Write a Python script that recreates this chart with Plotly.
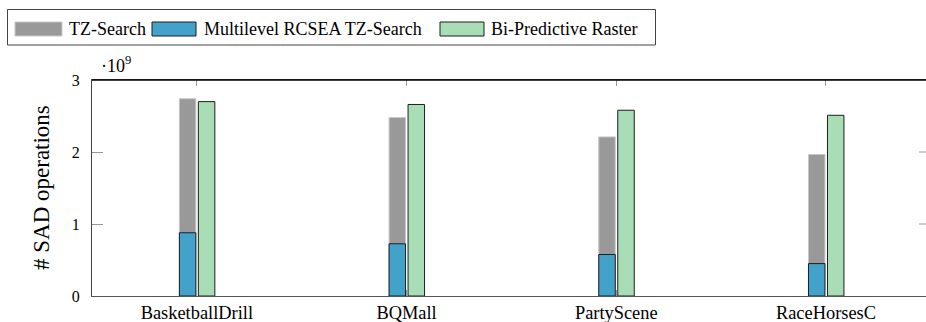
import plotly.graph_objects as go

# Sequences and SAD-operation counts per search method
categories = ["BasketballDrill", "BQMall", "PartyScene", "RaceHorsesC"]
tz_search = [2.74e9, 2.48e9, 2.21e9, 1.965e9]
rcsea_tz_search = [0.878e9, 0.725e9, 0.576e9, 0.45e9]
bi_predictive_raster = [2.70e9, 2.66e9, 2.58e9, 2.51e9]

series_names = ["TZ-Search", "Multilevel RCSEA TZ-Search", "Bi-Predictive Raster"]
y_tick_vals = [0, 1e9, 2e9, 3e9]
y_tick_text = ["0", "1", "2", "3"]

W, H = 926, 322
L, R, T, B = 92, 0, 80, 26
PW, PH = W - L - R, H - T - B


def px(x):
    return (x - L) / PW


def py(y):
    return (H - B - y) / PH


SERIF = "Liberation Serif"
GREY, BLUE, GREEN = "#999999", "#43A2CA", "#A8DDB5"
EDGE = "#1e1e1e"

bar_w = 0.0786
left_off = -0.0834
right_off = 0.00715

fig = go.Figure()
fig.add_bar(x=categories, y=tz_search, name=series_names[0], width=bar_w, offset=left_off,
            marker=dict(color=GREY, line=dict(color="#c8c8c8", width=1)))
fig.add_bar(x=categories, y=rcsea_tz_search, name=series_names[1], width=bar_w, offset=left_off,
            marker=dict(color=BLUE, line=dict(color=EDGE, width=1)))
fig.add_bar(x=categories, y=bi_predictive_raster, name=series_names[2], width=bar_w, offset=right_off,
            marker=dict(color=GREEN, line=dict(color=EDGE, width=1)))

shapes = []
annotations = []

# Right-hand y ticks (the right frame edge sits at the page border)
for v in y_tick_vals[1:-1]:
    shapes.append(dict(type="line", xref="paper", yref="y", x0=1 - 7 / PW, x1=1, y0=v, y1=v,
                       line=dict(color="#999999", width=1)))
# Top frame line
shapes.append(dict(type="line", xref="paper", yref="paper", x0=0, x1=1, y0=1, y1=1,
                   line=dict(color="#000000", width=1.3)))

# Legend box drawn with wide swatches
shapes.append(dict(type="rect", xref="paper", yref="paper", x0=px(7.5), x1=px(655.5),
                   y0=py(45), y1=py(9.5), line=dict(color="#444444", width=1), fillcolor="white"))
legend_items = [
    (15, 62, 67, GREY, "#c8c8c8"),
    (152, 196, 202, BLUE, EDGE),
    (440, 484, 489, GREEN, EDGE),
]
for (sx0, sx1, tx, col, edge), name in zip(legend_items, series_names):
    shapes.append(dict(type="rect", xref="paper", yref="paper", x0=px(sx0), x1=px(sx1),
                       y0=py(36), y1=py(22), fillcolor=col, line=dict(color=edge, width=1)))
    annotations.append(dict(text=name, xref="paper", yref="paper", x=px(tx), y=py(28.5),
                            xanchor="left", yanchor="middle", showarrow=False,
                            font=dict(family=SERIF, size=18, color="black")))

# Axis scale factor
annotations.append(dict(text="·10<sup>9</sup>", xref="paper", yref="paper", x=px(99), y=py(78),
                        xanchor="left", yanchor="bottom", showarrow=False,
                        font=dict(family=SERIF, size=18, color="black")))
# Y-axis title
annotations.append(dict(text="# SAD operations", xref="paper", yref="paper", x=px(41), y=0.5,
                        xanchor="center", yanchor="middle", textangle=-90, showarrow=False,
                        font=dict(family=SERIF, size=23, color="black")))

fig.update_layout(
    width=W, height=H,
    margin=dict(l=L, r=R, t=T, b=B, pad=0),
    barmode="overlay",
    showlegend=False,
    plot_bgcolor="white",
    paper_bgcolor="white",
    font=dict(family=SERIF, color="black"),
    shapes=shapes,
    annotations=annotations,
    xaxis=dict(
        range=[-0.5, 3.477], showgrid=False, zeroline=False,
        ticks="inside", ticklen=6, tickcolor="#999999", tickwidth=1,
        showline=True, linecolor="#555555", linewidth=1, mirror="allticks",
        tickfont=dict(family=SERIF, size=18.4, color="black"),
    ),
    yaxis=dict(
        range=[0, 3e9], tickvals=y_tick_vals, ticktext=y_tick_text,
        showgrid=False, zeroline=False,
        ticks="inside", ticklen=11, tickcolor="#999999", tickwidth=1,
        showline=True, linecolor="#444444", linewidth=1,
        ticklabelstandoff=8,
        tickfont=dict(family=SERIF, size=16, color="black"),
    ),
)

fig.write_html("out.html")
